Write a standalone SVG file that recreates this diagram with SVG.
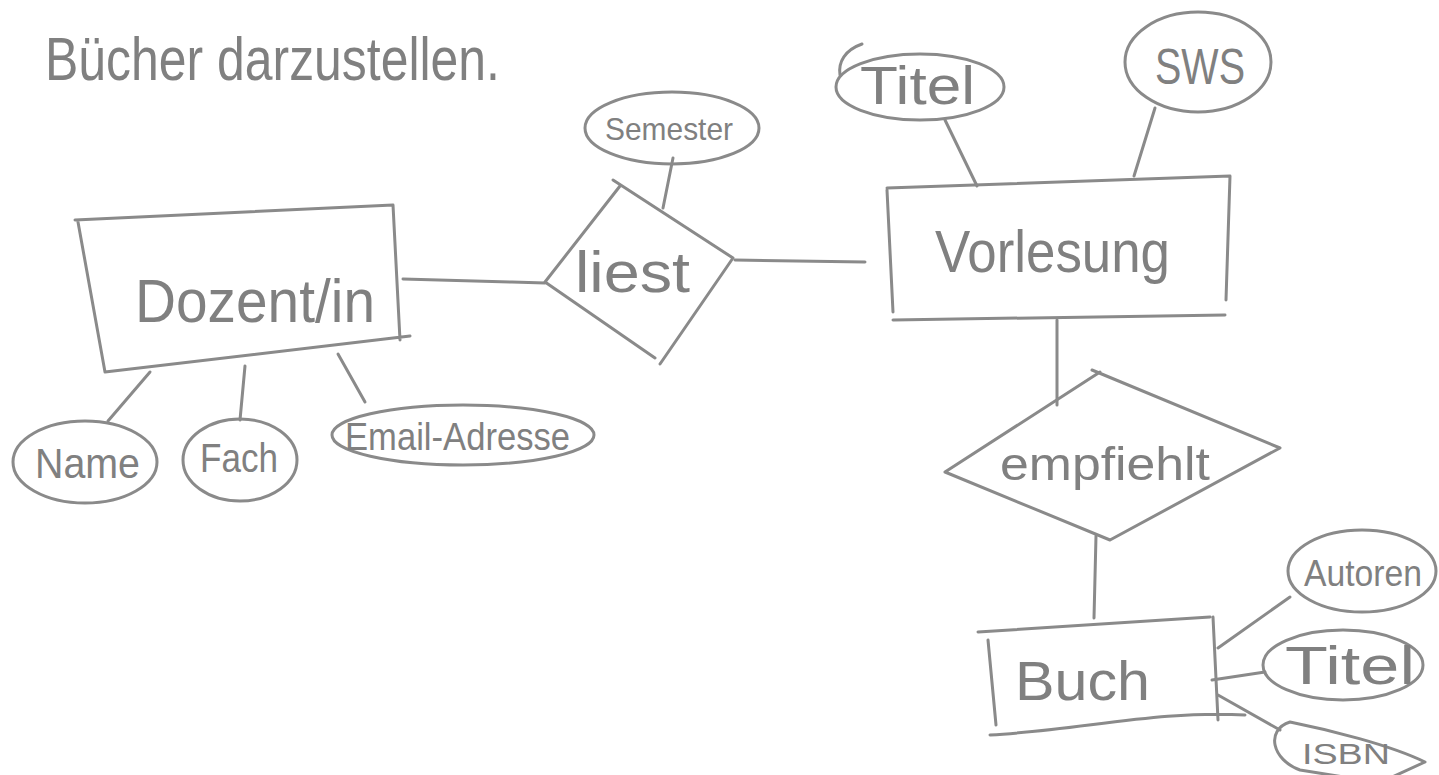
<svg xmlns="http://www.w3.org/2000/svg" width="1439" height="775" viewBox="0 0 1439 775">
  <style>
    .pen { fill: none; stroke: #8a8a8a; stroke-width: 3; stroke-linecap: round; stroke-linejoin: round; }
    .lbl { fill: #808080; font-family: "Liberation Sans", "DejaVu Sans", sans-serif; font-weight: normal; }
  </style>
  <rect width="1439" height="775" fill="#ffffff"/>

  <!-- heading -->
  <text class="lbl" x="45" y="80" font-size="62" textLength="455" lengthAdjust="spacingAndGlyphs">Bücher darzustellen.</text>

  <!-- connectors -->
  <g id="connectors" class="pen">
    <path d="M403,279 L512,282 L545,283"/>
    <path d="M735,260 L865,262"/>
    <path d="M673,158 L663,208"/>
    <path d="M150,372 L108,421"/>
    <path d="M245,366 L240,420"/>
    <path d="M338,354 L365,402"/>
    <path d="M945,120 L977,186"/>
    <path d="M1155,108 L1134,176"/>
    <path d="M1057,320 L1057,405"/>
    <path d="M1096,536 L1094,618"/>
    <path d="M1218,648 L1290,597"/>
    <path d="M1212,680 L1265,672"/>
    <path d="M1218,695 L1280,730"/>
  </g>

  <!-- entity: Dozent/in -->
  <g id="dozent">
    <path class="pen" d="M75,220 L393,205 L400,340 M78,222 L105,372 M105,372 L410,336"/>
    <text class="lbl" x="135" y="322" font-size="62" textLength="240" lengthAdjust="spacingAndGlyphs">Dozent/in</text>
  </g>

  <!-- relationship: liest -->
  <g id="liest">
    <path class="pen" d="M545,282 L620,186 M613,180 L733,258 L660,364 M545,282 L655,358"/>
    <text class="lbl" x="575" y="292" font-size="58" textLength="115" lengthAdjust="spacingAndGlyphs">liest</text>
  </g>

  <!-- attribute: Semester -->
  <g id="semester">
    <ellipse class="pen" cx="672" cy="128" rx="87" ry="36"/>
    <text class="lbl" x="605" y="140" font-size="32" textLength="128" lengthAdjust="spacingAndGlyphs">Semester</text>
  </g>

  <!-- entity: Vorlesung -->
  <g id="vorlesung">
    <path class="pen" d="M887,188 L1230,176 L1226,300 M887,190 L893,312 M893,320 L1225,315"/>
    <text class="lbl" x="935" y="272" font-size="60" textLength="235" lengthAdjust="spacingAndGlyphs">Vorlesung</text>
  </g>

  <!-- attribute: Titel (Vorlesung) -->
  <g id="titel-vorlesung">
    <ellipse class="pen" cx="920" cy="87" rx="84" ry="33"/>
    <path class="pen" d="M862,44 C845,50 838,62 840,75"/>
    <text class="lbl" x="860" y="104" font-size="54" textLength="115" lengthAdjust="spacingAndGlyphs">Titel</text>
  </g>

  <!-- attribute: SWS -->
  <g id="sws">
    <ellipse class="pen" cx="1198" cy="62" rx="73" ry="50"/>
    <text class="lbl" x="1155" y="84" font-size="50" textLength="90" lengthAdjust="spacingAndGlyphs">SWS</text>
  </g>

  <!-- attribute: Name -->
  <g id="name">
    <ellipse class="pen" cx="85" cy="462" rx="72" ry="41"/>
    <text class="lbl" x="35" y="478" font-size="42" textLength="105" lengthAdjust="spacingAndGlyphs">Name</text>
  </g>

  <!-- attribute: Fach -->
  <g id="fach">
    <ellipse class="pen" cx="240" cy="460" rx="57" ry="41"/>
    <text class="lbl" x="200" y="472" font-size="40" textLength="78" lengthAdjust="spacingAndGlyphs">Fach</text>
  </g>

  <!-- attribute: Email-Adresse -->
  <g id="email">
    <ellipse class="pen" cx="463" cy="435" rx="131" ry="30"/>
    <text class="lbl" x="345" y="450" font-size="38" textLength="225" lengthAdjust="spacingAndGlyphs">Email-Adresse</text>
  </g>

  <!-- relationship: empfiehlt -->
  <g id="empfiehlt">
    <path class="pen" d="M945,472 L1100,372 M1092,370 L1280,448 L1110,540 L945,472"/>
    <text class="lbl" x="1000" y="480" font-size="46" textLength="210" lengthAdjust="spacingAndGlyphs">empfiehlt</text>
  </g>

  <!-- entity: Buch -->
  <g id="buch">
    <path class="pen" d="M978,632 L1210,617 M988,640 L996,725 M1213,617 L1218,720 M990,735 C1080,730 1160,710 1245,715"/>
    <text class="lbl" x="1015" y="700" font-size="56" textLength="135" lengthAdjust="spacingAndGlyphs">Buch</text>
  </g>

  <!-- attribute: Autoren -->
  <g id="autoren">
    <ellipse class="pen" cx="1362" cy="571" rx="74" ry="41"/>
    <text class="lbl" x="1304" y="586" font-size="36" textLength="118" lengthAdjust="spacingAndGlyphs">Autoren</text>
  </g>

  <!-- attribute: Titel (Buch) -->
  <g id="titel-buch">
    <ellipse class="pen" cx="1343" cy="665" rx="80" ry="35"/>
    <text class="lbl" x="1285" y="684" font-size="54" textLength="130" lengthAdjust="spacingAndGlyphs">Titel</text>
  </g>

  <!-- attribute: ISBN -->
  <g id="isbn">
    <path class="pen" d="M1290,722 C1265,730 1272,760 1300,770 L1350,778 M1290,722 C1330,730 1390,745 1425,762 L1390,778"/>
    <text class="lbl" x="1302" y="764" font-size="30" textLength="88" lengthAdjust="spacingAndGlyphs">ISBN</text>
  </g>
</svg>
